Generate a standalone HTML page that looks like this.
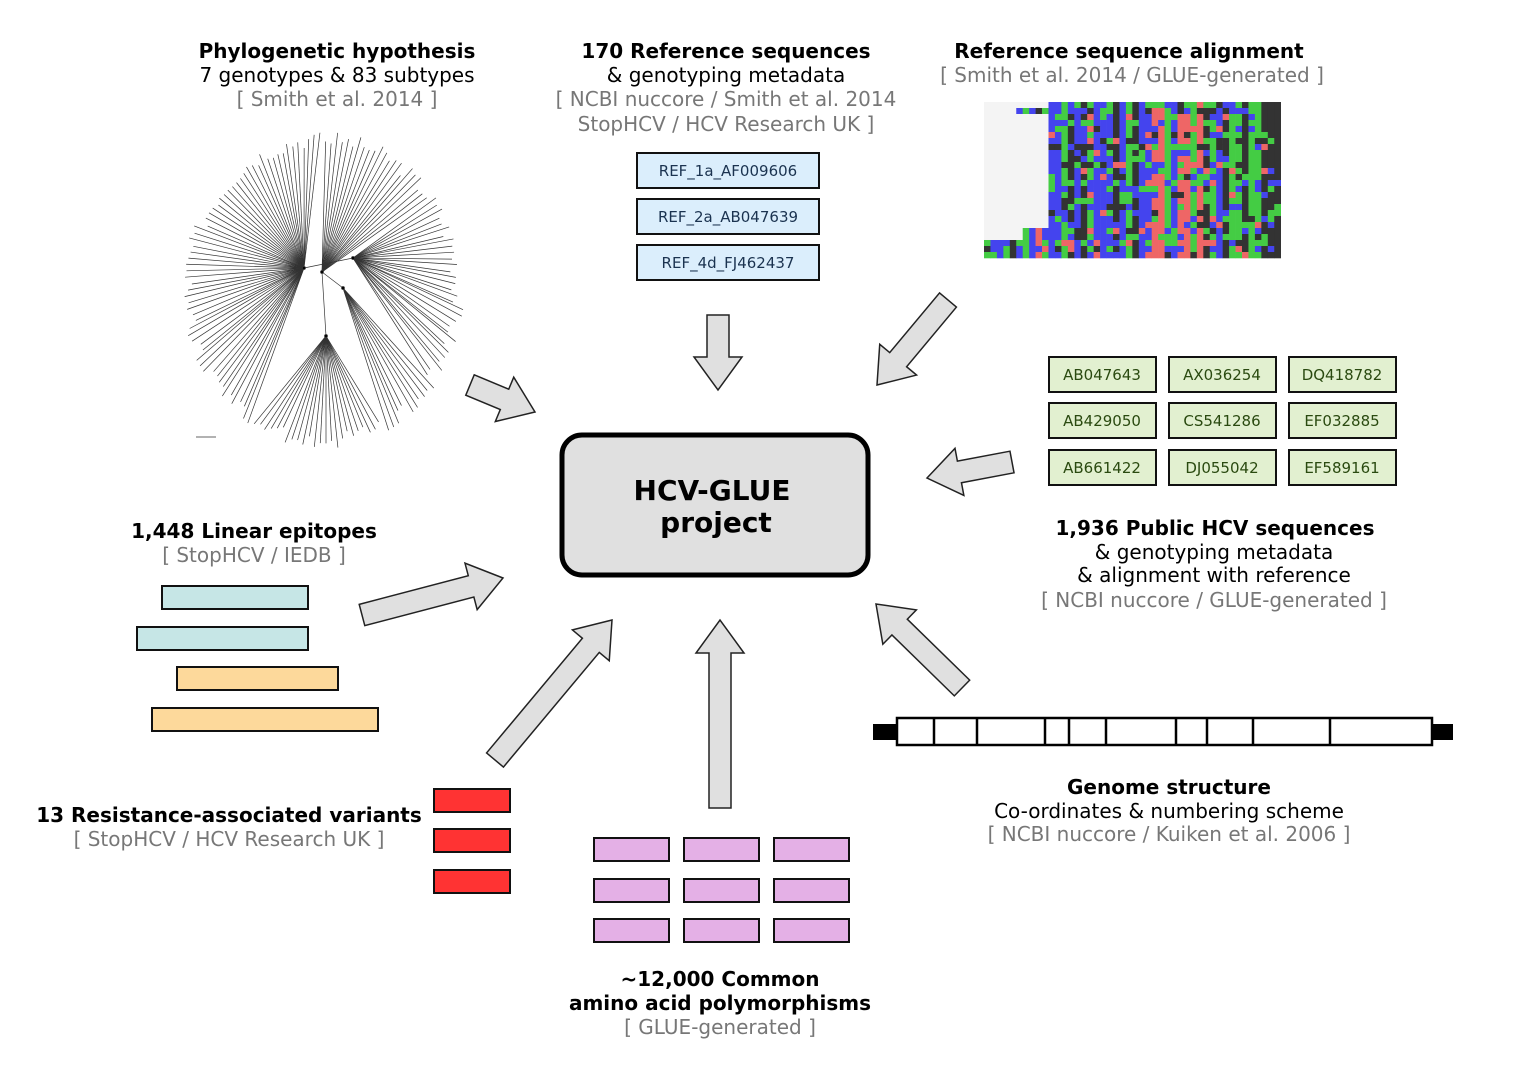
<!DOCTYPE html>
<html><head><meta charset="utf-8"><style>
body{margin:0;background:#fff;}
svg text{font-family:"DejaVu Sans","Liberation Sans",sans-serif;font-size:20px;text-anchor:middle;fill:#000}
.b{font-weight:bold}
.g{fill:#777}
.bx{font-size:15px;fill:#1b3350}
.gx{font-size:15px;fill:#2a4a10}
</style></head><body>
<svg id="s" width="1520" height="1072" viewBox="0 0 1520 1072" xmlns="http://www.w3.org/2000/svg">
<g id="tree" stroke="#333" stroke-width="0.7" fill="none"></g>
<g id="aln"></g>

<text x="337" y="58" class="b">Phylogenetic hypothesis</text>
<text x="337" y="82">7 genotypes &amp; 83 subtypes</text>
<text x="337" y="106" class="g">[ Smith et al. 2014 ]</text>

<text x="726" y="58" class="b">170 Reference sequences</text>
<text x="726" y="82">&amp; genotyping metadata</text>
<text x="726" y="106" class="g">[ NCBI nuccore / Smith et al. 2014</text>
<text x="726" y="131" class="g">StopHCV / HCV Research UK ]</text>

<text x="1129" y="58" class="b">Reference sequence alignment</text>
<text x="1132" y="82" class="g">[ Smith et al. 2014 / GLUE-generated ]</text>

<g stroke="#111" stroke-width="2" fill="#dbeefc">
<rect x="637" y="153" width="182" height="35"/><rect x="637" y="199" width="182" height="35"/><rect x="637" y="245" width="182" height="35"/>
</g>
<text x="728" y="176" class="bx">REF_1a_AF009606</text>
<text x="728" y="222" class="bx">REF_2a_AB047639</text>
<text x="728" y="268" class="bx">REF_4d_FJ462437</text>

<g stroke="#111" stroke-width="2" fill="#e2f0d0">
<rect x="1049" y="357" width="107" height="35"/><rect x="1169" y="357" width="107" height="35"/><rect x="1289" y="357" width="107" height="35"/>
<rect x="1049" y="403" width="107" height="35"/><rect x="1169" y="403" width="107" height="35"/><rect x="1289" y="403" width="107" height="35"/>
<rect x="1049" y="450" width="107" height="35"/><rect x="1169" y="450" width="107" height="35"/><rect x="1289" y="450" width="107" height="35"/>
</g>
<text x="1102" y="380" class="gx">AB047643</text><text x="1222" y="380" class="gx">AX036254</text><text x="1342" y="380" class="gx">DQ418782</text>
<text x="1102" y="426" class="gx">AB429050</text><text x="1222" y="426" class="gx">CS541286</text><text x="1342" y="426" class="gx">EF032885</text>
<text x="1102" y="473" class="gx">AB661422</text><text x="1222" y="473" class="gx">DJ055042</text><text x="1342" y="473" class="gx">EF589161</text>

<text x="1215" y="535" class="b">1,936 Public HCV sequences</text>
<text x="1214" y="559">&amp; genotyping metadata</text>
<text x="1214" y="582">&amp; alignment with reference</text>
<text x="1214" y="607" class="g">[ NCBI nuccore / GLUE-generated ]</text>

<rect x="562" y="435" width="306" height="140" rx="20" fill="#e0e0e0" stroke="#000" stroke-width="5"/>
<text x="712" y="500" class="b" style="font-size:28px">HCV-GLUE</text>
<text x="716" y="532" class="b" style="font-size:28px">project</text>

<text x="254" y="538" class="b">1,448 Linear epitopes</text>
<text x="254" y="562" class="g">[ StopHCV / IEDB ]</text>
<g stroke="#111" stroke-width="2">
<rect x="162" y="586" width="146" height="23" fill="#c6e6e6"/>
<rect x="137" y="627" width="171" height="23" fill="#c6e6e6"/>
<rect x="177" y="667" width="161" height="23" fill="#fdd99b"/>
<rect x="152" y="708" width="226" height="23" fill="#fdd99b"/>
<rect x="434" y="789" width="76" height="23" fill="#f33"/>
<rect x="434" y="829" width="76" height="23" fill="#f33"/>
<rect x="434" y="870" width="76" height="23" fill="#f33"/>
</g>
<text x="229" y="822" class="b">13 Resistance-associated variants</text>
<text x="229" y="846" class="g">[ StopHCV / HCV Research UK ]</text>

<g stroke="#111" stroke-width="2" fill="#e4b0e6">
<rect x="594" y="838" width="75" height="23"/><rect x="684" y="838" width="75" height="23"/><rect x="774" y="838" width="75" height="23"/>
<rect x="594" y="879" width="75" height="23"/><rect x="684" y="879" width="75" height="23"/><rect x="774" y="879" width="75" height="23"/>
<rect x="594" y="919" width="75" height="23"/><rect x="684" y="919" width="75" height="23"/><rect x="774" y="919" width="75" height="23"/>
</g>
<text x="720" y="986" class="b">~12,000 Common</text>
<text x="720" y="1010" class="b">amino acid polymorphisms</text>
<text x="720" y="1034" class="g">[ GLUE-generated ]</text>

<rect x="873" y="724" width="25" height="16" fill="#000"/>
<rect x="1431" y="724" width="22" height="16" fill="#000"/>
<rect x="897" y="718" width="535" height="27" fill="#fff" stroke="#000" stroke-width="2.5"/>
<g stroke="#000" stroke-width="2.5">
<line x1="934" y1="718" x2="934" y2="745"/><line x1="977" y1="718" x2="977" y2="745"/><line x1="1045" y1="718" x2="1045" y2="745"/>
<line x1="1069" y1="718" x2="1069" y2="745"/><line x1="1106" y1="718" x2="1106" y2="745"/><line x1="1176" y1="718" x2="1176" y2="745"/>
<line x1="1207" y1="718" x2="1207" y2="745"/><line x1="1253" y1="718" x2="1253" y2="745"/><line x1="1330" y1="718" x2="1330" y2="745"/>
</g>
<text x="1169" y="794" class="b">Genome structure</text>
<text x="1169" y="818">Co-ordinates &amp; numbering scheme</text>
<text x="1169" y="841" class="g">[ NCBI nuccore / Kuiken et al. 2006 ]</text>

<g id="arrows" fill="#e0e0e0" stroke="#222" stroke-width="1.5"></g>
</svg>
<script>
var NS="http://www.w3.org/2000/svg";
function el(t,a,p){var e=document.createElementNS(NS,t);for(var k in a)e.setAttribute(k,a[k]);p.appendChild(e);return e;}
var A=document.getElementById("arrows");
function arrow(x1,y1,x2,y2){var dx=x2-x1,dy=y2-y1,L=Math.hypot(dx,dy),ang=Math.atan2(dy,dx)*180/Math.PI;
var w=11,h=24,hl=33;var pts=[[0,-w],[L-hl,-w],[L-hl,-h],[L,0],[L-hl,h],[L-hl,w],[0,w]].map(function(p){return p.join(",")}).join(" ");
el("polygon",{points:pts,transform:"translate("+x1+","+y1+") rotate("+ang+")"},A);}
arrow(470,385,535,412);
arrow(718,315,718,390);
arrow(948,300,877,385);
arrow(1012,462,927,478);
arrow(362,615,503,578);
arrow(495,760,612,620);
arrow(720,808,720,620);
arrow(962,688,876,604);
var T=document.getElementById("tree");var cx=323,cy=290;
var nodes=[[304,268],[353,258],[343,288],[326,336],[322,272]];
el("line",{x1:304,y1:268,x2:353,y2:258},T);el("line",{x1:322,y1:272,x2:326,y2:336},T);el("line",{x1:322,y1:272,x2:343,y2:288},T);
var seed=3;function r(){seed=(seed*9301+49297)%233280;return seed/233280;}
for(var i=0;i<150;i++){var a=-Math.PI/2+(i/150)*2*Math.PI+0.02;var R=128+r()*14;var tx=cx+R*Math.cos(a),ty=cy+R*Math.sin(a)*1.12;
var d=(a+Math.PI/2+2*Math.PI)%(2*Math.PI);var n;
if(d<0.9)n=nodes[4];else if(d<2.2)n=nodes[1];else if(d<2.7)n=nodes[2];else if(d<3.7)n=nodes[3];else n=nodes[0];
el("line",{x1:n[0],y1:n[1],x2:tx,y2:ty},T);}
nodes.forEach(function(n){el("circle",{cx:n[0],cy:n[1],r:1.5,fill:"#000"},T);});
el("line",{x1:196,y1:437,x2:216,y2:437},T);
var G=document.getElementById("aln");var cols=["#44cc44","#4444ee","#ee6666","#333333"];
function pick(){var v=r();return v<0.35?0:(v<0.70?1:(v<0.88?3:2));}
var x0=984,y0=102,cw=6.45,ch=6.0,nc=46,nr=26;
var base=[];for(var c=0;c<nc;c++)base.push(pick());
for(var row=0;row<nr;row++){var start=row<21?(row==1?5:10):(row<23?6:0);
for(var c=0;c<nc;c++){var x=x0+c*cw,y=y0+row*ch;
if(c<start){el("rect",{x:x,y:y,width:cw+0.3,height:ch+0.3,fill:"#f4f4f4"},G);continue;}
var col=base[c];if(r()<0.35)col=pick();
el("rect",{x:x,y:y,width:cw+0.3,height:ch+0.3,fill:cols[col]},G);}}
</script>
</body></html>
